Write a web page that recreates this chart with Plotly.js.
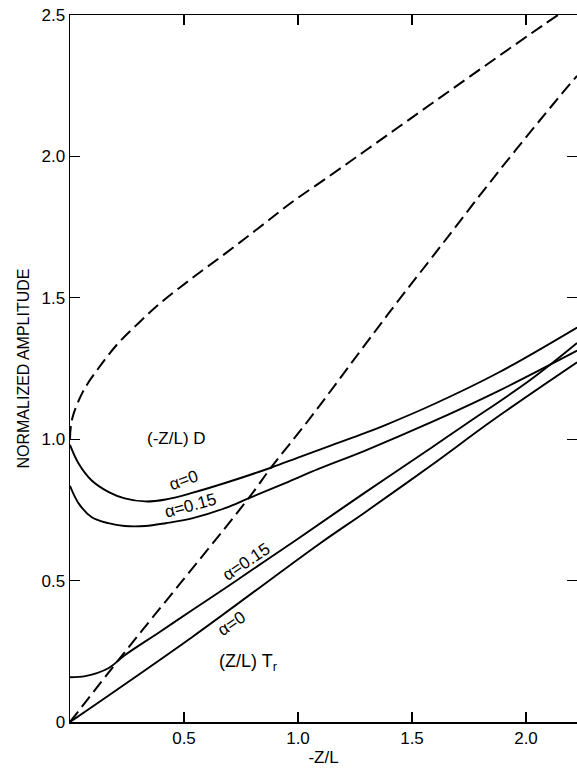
<!DOCTYPE html>
<html>
<head>
<meta charset="utf-8">
<script src="https://cdn.plot.ly/plotly-3.0.1.min.js"></script>
<style>html,body{margin:0;padding:0;background:#fff;}#chart{width:577px;height:772px;}</style>
</head>
<body>
<div id="chart"></div>
<script>
// Upper dashed curve
const dashUpperX = [0, 0.003, 0.014, 0.058, 0.124, 0.212, 0.30, 0.387, 0.533, 0.682, 0.826, 0.97, 1.146, 1.295, 1.44, 1.585, 1.734, 1.878, 2.023, 2.14];
const dashUpperY = [1.0, 1.04, 1.085, 1.17, 1.25, 1.34, 1.41, 1.475, 1.568, 1.657, 1.746, 1.836, 1.935, 2.02, 2.103, 2.186, 2.271, 2.353, 2.435, 2.5];
// Lower dashed line from origin
const dashLowerX = [0, 0.235, 0.783, 0.884, 1.046, 1.295, 1.44, 1.585, 1.878, 2.14, 2.224];
const dashLowerY = [0, 0.242, 0.791, 0.902, 1.067, 1.335, 1.49, 1.64, 1.945, 2.205, 2.285];
// (-Z/L)D, a=0
const dA0X = [0, 0.037, 0.094, 0.168, 0.24, 0.33, 0.42, 0.535, 0.68, 0.884, 1.0, 1.146, 1.295, 1.383, 1.585, 1.878, 2.224];
const dA0Y = [0.98, 0.915, 0.855, 0.814, 0.791, 0.78, 0.787, 0.81, 0.845, 0.90, 0.935, 0.978, 1.022, 1.05, 1.12, 1.235, 1.395];
// (-Z/L)D, a=0.15
const dA15X = [0, 0.037, 0.094, 0.168, 0.24, 0.33, 0.42, 0.535, 0.68, 0.783, 0.944, 1.09, 1.295, 1.585, 1.878, 2.224];
const dA15Y = [0.835, 0.774, 0.725, 0.703, 0.693, 0.693, 0.703, 0.72, 0.756, 0.791, 0.845, 0.895, 0.96, 1.06, 1.17, 1.313];
// (Z/L)Tr, a=0.15
const tA15X = [0, 0.067, 0.168, 0.24, 0.387, 0.535, 0.68, 0.826, 1.0, 1.295, 1.585, 1.734, 2.02, 2.224];
const tA15Y = [0.158, 0.162, 0.19, 0.236, 0.315, 0.395, 0.473, 0.553, 0.648, 0.812, 0.97, 1.052, 1.21, 1.34];
// (Z/L)Tr, a=0
const tA0X = [0, 0.535, 1.09, 1.295, 1.585, 1.854, 2.224];
const tA0Y = [0, 0.30, 0.628, 0.742, 0.908, 1.067, 1.272];

const yTickVals = [0, 0.5, 1.0, 1.5, 2.0, 2.5];
const yTickText = ["0", "0.5", "1.0", "1.5", "2.0", "2.5"];
const xTickVals = [0.5, 1.0, 1.5, 2.0];
const xTickText = ["0.5", "1.0", "1.5", "2.0"];

const FONT = "Liberation Sans, Arial, sans-serif";
const dashed = {color: "#000", width: 2, dash: "13px,6px", shape: "spline", smoothing: 1};
const solid = {color: "#000", width: 1.9, shape: "spline", smoothing: 1};

const traces = [
  {x: dashUpperX, y: dashUpperY, mode: "lines", line: dashed},
  {x: dashLowerX, y: dashLowerY, mode: "lines", line: dashed},
  {x: dA0X, y: dA0Y, mode: "lines", line: solid},
  {x: dA15X, y: dA15Y, mode: "lines", line: solid},
  {x: tA15X, y: tA15Y, mode: "lines", line: solid},
  {x: tA0X, y: tA0Y, mode: "lines", line: solid}
];

const ann = (text, x, y, angle, size) => ({
  text: text, x: x, y: y, xref: "x", yref: "y", showarrow: false,
  textangle: angle, font: {family: FONT, size: size || 17, color: "#000"}
});

const layout = {
  width: 577, height: 772,
  margin: {l: 70, r: 0, t: 15, b: 50},
  paper_bgcolor: "#fff", plot_bgcolor: "#fff",
  showlegend: false,
  font: {family: FONT, size: 17, color: "#000"},
  xaxis: {
    range: [0, 2.2237], tickvals: xTickVals, ticktext: xTickText,
    ticks: "inside", ticklen: 10, tickwidth: 1.2, tickcolor: "#000",
    showline: true, linecolor: "#000", linewidth: 1.5, mirror: "ticks",
    showgrid: false, zeroline: false,
    tickfont: {family: FONT, size: 17, color: "#000"},
    title: {text: "-Z/L", font: {family: FONT, size: 17, color: "#000"}, standoff: 4}
  },
  yaxis: {
    range: [0, 2.5], tickvals: yTickVals, ticktext: yTickText,
    ticks: "inside", ticklen: 10, tickwidth: 1.2, tickcolor: "#000",
    showline: true, linecolor: "#000", linewidth: 1.5, mirror: "ticks",
    showgrid: false, zeroline: false,
    tickfont: {family: FONT, size: 17, color: "#000"},
    title: {text: "NORMALIZED AMPLITUDE", font: {family: FONT, size: 16, color: "#000"}, standoff: 8}
  },
  annotations: [
    ann("(-Z/L) D", 0.465, 1.004, 0, 17),
    ann("α=0", 0.496, 0.855, -20),
    ann("α=0.15", 0.53, 0.767, -15),
    ann("α=0.15", 0.776, 0.566, -34),
    ann("α=0", 0.71, 0.348, -34),
    ann("(Z/L) T<sub>r</sub>", 0.78, 0.209, 0, 18)
  ]
};

Plotly.newPlot("chart", traces, layout, {staticPlot: true, displayModeBar: false});
</script>
</body>
</html>
